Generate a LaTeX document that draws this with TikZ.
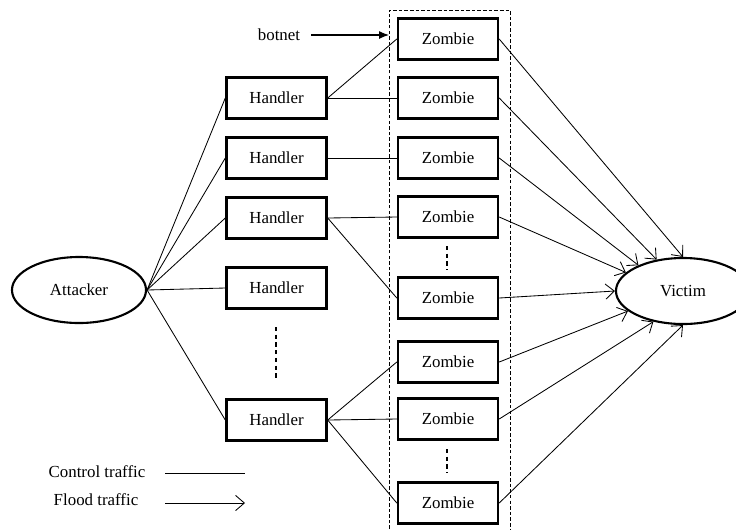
\documentclass[tikz,border=0pt]{standalone}
\usepackage{fontspec}
\setmainfont{Liberation Serif}
\usetikzlibrary{shapes.geometric, arrows.meta}

\begin{document}
\begin{tikzpicture}[
    x=0.025cm, y=-0.025cm,
    font=\fontsize{12pt}{14pt}\selectfont,
    box/.style={rectangle, draw, line width=1.7pt, minimum width=2.5cm, minimum height=1.02cm, inner sep=0pt},
    host/.style={ellipse, draw, line width=1.5pt, minimum width=3.35cm, minimum height=1.65cm, inner sep=0pt},
    ctrl/.style={line width=0.6pt},
    flood/.style={-{Straight Barb[length=2.2mm, width=3.8mm]}, line width=0.6pt},
    more/.style={dash pattern=on 3pt off 2.5pt, line width=0.8pt}
]
  \useasboundingbox (0,0) rectangle (736,529);

  % the two end hosts
  \node[host] (attacker) at (79,290) {Attacker};
  \node[host] (victim) at (683,291) {Victim};

  % handlers
  \node[box] (h1) at (276.5,98) {Handler};
  \node[box] (h2) at (276.5,158) {Handler};
  \node[box] (h3) at (276.5,218) {Handler};
  \node[box] (h4) at (276.5,288) {Handler};
  \node[box] (h5) at (276.5,420) {Handler};

  % zombies
  \node[box] (z1) at (448,39) {Zombie};
  \node[box] (z2) at (448,98) {Zombie};
  \node[box] (z3) at (448,158) {Zombie};
  \node[box] (z4) at (448,217) {Zombie};
  \node[box] (z5) at (448,298) {Zombie};
  \node[box] (z6) at (448,362) {Zombie};
  \node[box] (z7) at (448,419) {Zombie};
  \node[box] (z8) at (448,503) {Zombie};

  % botnet frame
  \draw[dash pattern=on 2.5pt off 1.5pt, line width=0.7pt] (389,529) -- (389,10) -- (510,10) -- (510,529);
  \node (botnet) at (279,35) {botnet};
  \coordinate (frame) at (389,35);
  \draw[-{Latex[length=2.5mm, width=2mm]}, line width=0.8pt] (botnet.east) ++(6,0) coordinate (bstart) (bstart) -- (frame);

  % more of them
  \coordinate (hd1) at (276,327);
  \coordinate (hd2) at (276,378);
  \draw[more] (hd1) -- (hd2);
  \coordinate (zd1) at (447,246);
  \coordinate (zd2) at (447,270);
  \draw[more] (zd1) -- (zd2);
  \coordinate (zd3) at (447,449);
  \coordinate (zd4) at (447,473);
  \draw[more] (zd3) -- (zd4);

  % control traffic
  \foreach \h in {h1,h2,h3,h4,h5}
    \draw[ctrl] (attacker.east) -- (\h.west);
  \draw[ctrl] (h1.east) -- (z1.west);
  \draw[ctrl] (h1.east) -- (z2.west);
  \draw[ctrl] (h2.east) -- (z3.west);
  \draw[ctrl] (h3.east) -- (z4.west);
  \draw[ctrl] (h3.east) -- (z5.west);
  \draw[ctrl] (h5.east) -- (z6.west);
  \draw[ctrl] (h5.east) -- (z7.west);
  \draw[ctrl] (h5.east) -- (z8.west);

  % flood traffic
  \foreach \z/\a in {z1/90, z2/130, z3/150, z4/162, z5/180, z6/200, z7/226, z8/270}
    \draw[flood] (\z.east) -- (victim.\a);

  % legend
  \node (lctrl) at (97,472) {Control traffic};
  \node (lflood) at (96,500) {Flood traffic};
  \coordinate (c1) at (165,473);
  \coordinate (c2) at (245,473);
  \coordinate (f1) at (165,503);
  \coordinate (f2) at (245,503);
  \draw[ctrl] (c1) -- (c2);
  \draw[flood] (f1) -- (f2);
\end{tikzpicture}
\end{document}
